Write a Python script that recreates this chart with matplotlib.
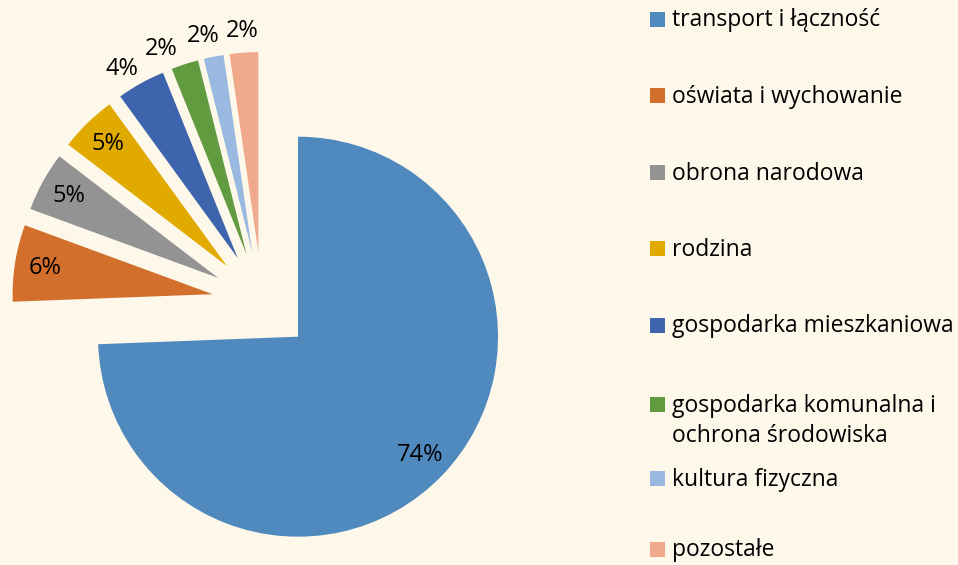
import numpy as np
import matplotlib.pyplot as plt
from matplotlib.patches import Rectangle

categories = ["transport i łączność", "oświata i wychowanie", "obrona narodowa", "rodzina",
              "gospodarka mieszkaniowa", "gospodarka komunalna i\nochrona środowiska",
              "kultura fizyczna", "pozostałe"]
shares = [74.4, 6.2, 4.8, 4.6, 3.9, 2.2, 1.6, 2.3]
pct_labels = [f"{s:.0f}%" for s in shares]
colors = ["#4F89BD", "#D36F2D", "#939393", "#E1AA00", "#3D64AD", "#629A40", "#99B9E0", "#F0A98B"]
label_inside = [True, True, True, True, False, False, False, False]
# small angular nudges so the outer labels don't collide (degrees)
label_nudge = [0, 0, 0, 0, 2.5, 4.5, 1.5, 0]

bg = "#FEF8EB"
plt.rcParams['font.family'] = ['Open Sans', 'DejaVu Sans']

fig = plt.figure(figsize=(9.58, 5.65), dpi=100, facecolor=bg)
ax = fig.add_axes([0, 0, 1, 1])
ax.set_facecolor(bg)

# every slice pulled out by the same amount
wedges, _ = ax.pie(shares, colors=colors, startangle=90, counterclock=False,
                   explode=[0.25] * len(shares), radius=1,
                   wedgeprops=dict(linewidth=0))

for w, txt, inside, nudge in zip(wedges, pct_labels, label_inside, label_nudge):
    mid = np.deg2rad((w.theta1 + w.theta2) / 2 + nudge)
    cx, cy = w.center
    d = 0.85 if inside else 1.11
    ax.text(cx + d * np.cos(mid), cy + d * np.sin(mid), txt,
            ha='center', va='center', fontsize=17, color='black')

# 200 px per unit, pie centre at pixel (262, 302)
ax.set_xlim(-1.31, 3.48)
ax.set_ylim(-1.315, 1.51)
ax.axis('off')

# legend drawn in pixel coordinates
lax = fig.add_axes([0, 0, 1, 1])
lax.set_xlim(0, 958)
lax.set_ylim(565, 0)
lax.axis('off')
lax.patch.set_visible(False)

y = 19
for name, c in zip(categories, colors):
    lines = name.split("\n")
    yy = min(y + 3 * (len(lines) - 1), 549)  # keep last entry inside the canvas
    lax.add_patch(Rectangle((650, yy - 7.5), 15, 15, color=c, lw=0))
    for i, line in enumerate(lines):
        lax.text(672, yy + 7.5 + 30 * i, line, ha='left', va='baseline',
                 fontsize=16.5, color='black')
    y += 76.5

fig.savefig("out.png", dpi=100, facecolor=bg)
